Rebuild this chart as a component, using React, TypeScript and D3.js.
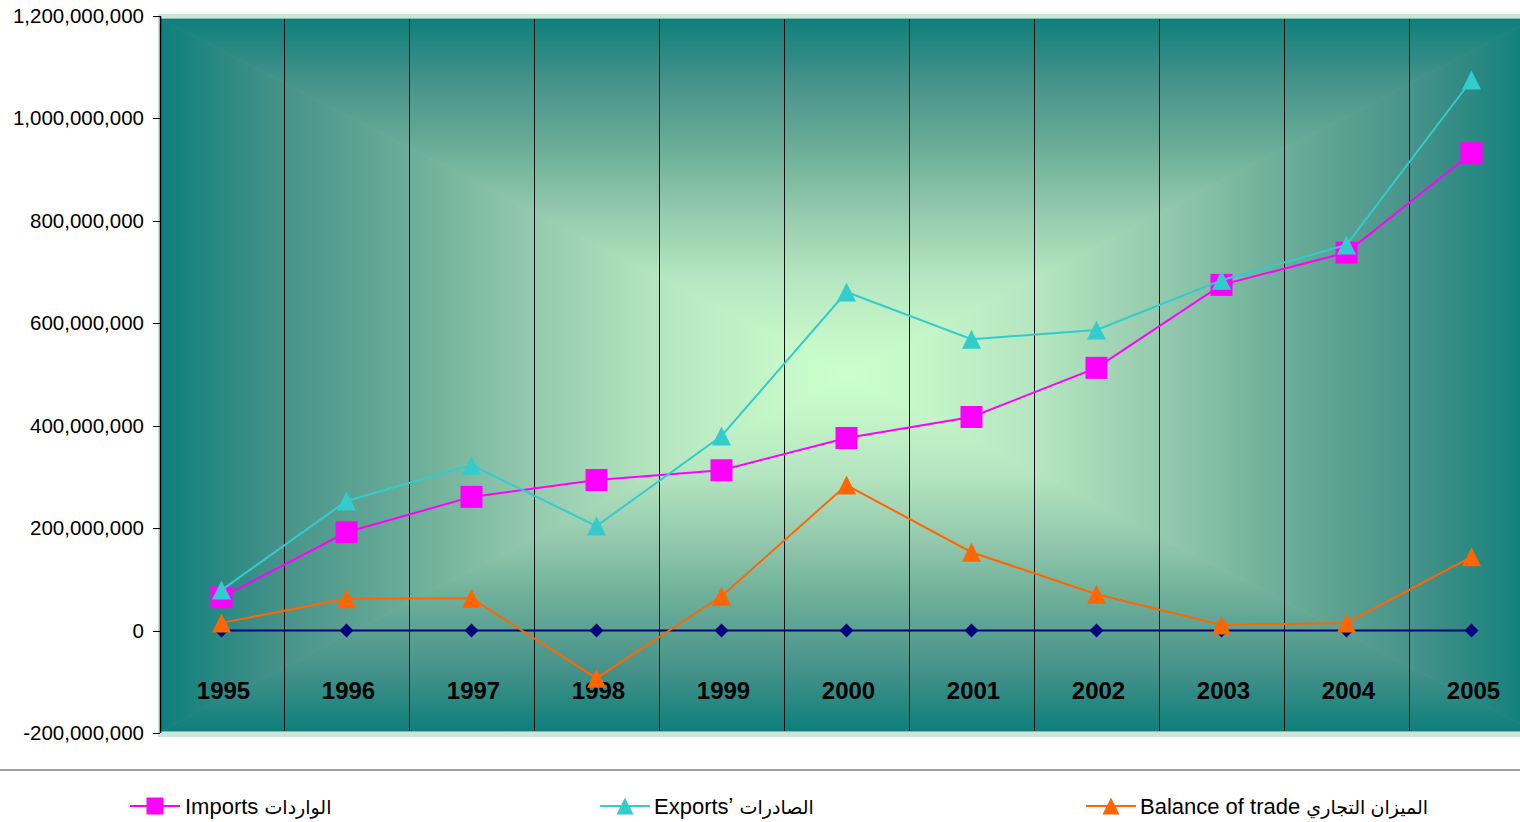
import React from "react";
import * as d3 from "d3";

const years = ["1995","1996","1997","1998","1999","2000","2001","2002","2003","2004","2005"];
const imports = [65e6,192e6,261e6,294e6,313e6,376e6,417e6,513e6,675e6,738e6,932e6];
const exportsV = [79e6,253e6,323e6,204e6,380e6,661e6,569e6,587e6,684e6,753e6,1075e6];
const balance = [15e6,62e6,63e6,-93e6,67e6,284e6,153e6,71e6,11e6,15e6,144e6];
const zeroSeries = [0,0,0,0,0,0,0,0,0,0,0];
const yTicks = [-200e6,0,200e6,400e6,600e6,800e6,1000e6,1200e6];
const legendLatin = ["Imports ", "Exports\u02BC ", "Balance of trade "];
const legendArabic = ["الواردات", "الصادرات", "الميزان التجاري"];

const W = 1520, H = 822;
const FONT = "'Liberation Sans', Arial, 'DejaVu Sans', sans-serif";

export default function App() {
  const x = d3.scaleBand<string>().domain(years).range([159, 159 + 125 * years.length]);
  const y = d3.scaleLinear().domain([-200e6, 1200e6]).range([733, 16]);
  const cx = (yr: string) => (x(yr) as number) + x.bandwidth() / 2;
  const fmt = (v: number) => d3.format(",")(v).replace("\u2212", "-");

  const ix0 = 161, ix1 = 159 + 125 * years.length, iy0 = 19, iy1 = 731;
  const mx = (ix0 + ix1) / 2, my = (iy0 + iy1) / 2;
  const stops: [number, string][] = [
    [0, "#0e7f7b"], [0.18, "#48938a"], [0.36, "#6aad98"], [0.54, "#94c9ad"],
    [0.72, "#b5e5c0"], [0.9, "#c5f7c9"], [1, "#ccffcc"],
  ];
  const grads = [
    { id: "gT", x1: 0, y1: iy0, x2: 0, y2: my, pts: [[ix0, iy0], [ix1, iy0], [mx, my]] },
    { id: "gB", x1: 0, y1: iy1, x2: 0, y2: my, pts: [[ix0, iy1], [ix1, iy1], [mx, my]] },
    { id: "gL", x1: ix0, y1: 0, x2: mx, y2: 0, pts: [[ix0, iy0], [ix0, iy1], [mx, my]] },
    { id: "gR", x1: ix1, y1: 0, x2: mx, y2: 0, pts: [[ix1, iy0], [ix1, iy1], [mx, my]] },
  ];

  const line = d3.line<number>().x((_, i) => cx(years[i])).y((d) => y(d));

  const series = [
    { data: zeroSeries, color: "#000080", marker: "diamond", size: 14 },
    { data: imports, color: "#ff00ff", marker: "square", size: 22 },
    { data: exportsV, color: "#33cccc", marker: "triangle", size: 19 },
    { data: balance, color: "#ff6600", marker: "triangle", size: 19 },
  ];

  const markerPath = (type: string, s: number) => {
    const h = s / 2;
    if (type === "square") return `M${-h},${-h}h${s}v${s}h${-s}Z`;
    if (type === "diamond") return `M0,${-h}L${h},0L0,${h}L${-h},0Z`;
    return `M0,${-h}L${h},${h}L${-h},${h}Z`;
  };

  const legend = [
    { color: "#ff00ff", marker: "square", lx: 130, tx: 185 },
    { color: "#33cccc", marker: "triangle", lx: 600, tx: 654 },
    { color: "#ff6600", marker: "triangle", lx: 1086, tx: 1140 },
  ];

  return (
    <svg width={W} height={H} style={{ position: "absolute", left: 0, top: 0, display: "block" }} fontFamily={FONT}>
      <defs>
        {grads.map((g) => (
          <linearGradient key={g.id} id={g.id} gradientUnits="userSpaceOnUse" x1={g.x1} y1={g.y1} x2={g.x2} y2={g.y2}>
            {stops.map(([o, c], i) => <stop key={i} offset={o} stopColor={c} />)}
          </linearGradient>
        ))}
      </defs>
      <rect x={0} y={0} width={W} height={H} fill="#ffffff" />
      <rect x={158} y={14} width={ix1 - 158 + 5} height={737 - 14} fill="#cbe6d6" />
      {grads.map((g) => (
        <polygon key={g.id} points={g.pts.map((p) => p.join(",")).join(" ")} fill={`url(#${g.id})`} stroke={`url(#${g.id})`} strokeWidth={0.8} />
      ))}
      {years.slice(1).map((yr) => (
        <line key={yr} x1={(x(yr) as number) + 0.5} x2={(x(yr) as number) + 0.5} y1={iy0} y2={iy1} stroke="#111" strokeWidth={1} />
      ))}
      <line x1={160.5} x2={160.5} y1={16} y2={733} stroke="#000" strokeWidth={1.5} />
      {yTicks.map((t) => (
        <g key={t}>
          <line x1={153} x2={160} y1={Math.round(y(t)) + 0.5} y2={Math.round(y(t)) + 0.5} stroke="#000" strokeWidth={1} />
          <text x={144} y={y(t) + 7} textAnchor="end" fontSize={20.5} fill="#000">{fmt(t)}</text>
        </g>
      ))}
      {years.map((yr) => (
        <text key={yr} x={cx(yr) + 2} y={699} textAnchor="middle" fontSize={24} fontWeight="bold" fill="#000">{yr}</text>
      ))}
      {series.map((s, si) => (
        <g key={si}>
          <path d={line(s.data) as string} fill="none" stroke={s.color} strokeWidth={2} />
          {s.data.map((v, i) => (
            <path key={i} d={markerPath(s.marker, s.size)} transform={`translate(${cx(years[i])},${y(v)})`} fill={s.color} />
          ))}
        </g>
      ))}
      <line x1={0} x2={W} y1={770} y2={770} stroke="#808080" strokeWidth={1.5} />
      {legend.map((l, i) => (
        <g key={i}>
          <line x1={l.lx} x2={l.lx + 50} y1={806} y2={806} stroke={l.color} strokeWidth={2} />
          <path d={markerPath(l.marker, 17)} transform={`translate(${l.lx + 25},${806})`} fill={l.color} />
          <text x={l.tx} y={814} fontSize={22} fill="#000">
            {legendLatin[i]}
            <tspan fontSize={19}>{legendArabic[i]}</tspan>
          </text>
        </g>
      ))}
    </svg>
  );
}
